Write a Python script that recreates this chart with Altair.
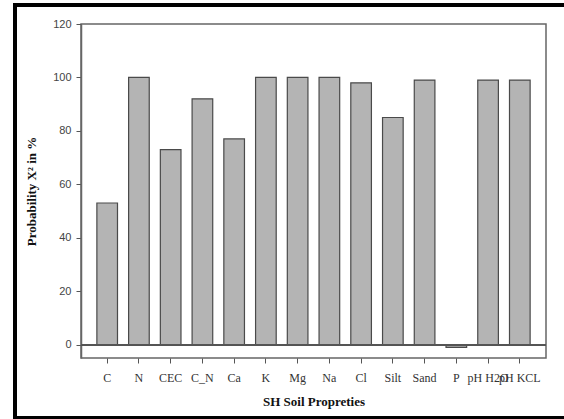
import altair as alt
import pandas as pd

categories = ["C", "N", "CEC", "C_N", "Ca", "K", "Mg", "Na", "Cl", "Silt", "Sand", "P", "pH H2O", "pH KCL"]
values = [53, 100, 73, 92, 77, 100, 100, 100, 98, 85, 99, -1, 99, 99]
y_ticks = [0, 20, 40, 60, 80, 100, 120]

df = pd.DataFrame({"prop": categories, "prob": values})

W, H = 465, 334

x_enc = alt.X("prop:N", sort=categories, title="SH Soil Propreties",
              scale=alt.Scale(paddingInner=0.35, paddingOuter=0.5),
              axis=alt.Axis(labelAngle=0, labelFont="Liberation Serif", labelFontSize=12,
                            labelColor="#333333", tickColor="#555555", tickSize=5,
                            labelPadding=9, domain=False, titleFont="Liberation Serif",
                            titleFontSize=13, titleFontWeight="bold", titleColor="#111111",
                            titlePadding=12, labelOverlap=False))
y_enc = alt.Y("prob:Q", title="Probability X² in %",
              scale=alt.Scale(domain=[-5, 120], nice=False, zero=False),
              axis=alt.Axis(values=y_ticks, grid=False, labelFont="Liberation Sans",
                            labelFontSize=11, labelColor="#444444", tickColor="#555555",
                            tickSize=5, labelPadding=5, domainColor="#666666", domainWidth=1.5,
                            titleFont="Liberation Serif", titleFontSize=13,
                            titleFontWeight="bold", titleColor="#111111", titlePadding=14))

bars = alt.Chart(df).mark_bar(fill="#b4b4b4", stroke="#4a4a4a", strokeWidth=1.2).encode(
    x=x_enc, y=y_enc, y2=alt.datum(0)
)

zero = alt.Chart(df).mark_rule(color="#555555", strokeWidth=1.5).encode(
    y=alt.datum(0), x=alt.value(0), x2=alt.value(W)
)

frame = alt.Chart(df).mark_rect(fill=None, stroke="#000000", strokeWidth=3.5, clip=False).encode(
    x=alt.value(-66), x2=alt.value(520), y=alt.value(-19), y2=alt.value(394)
)

chart = alt.layer(bars, zero, frame).properties(
    width=W, height=H,
    autosize=alt.AutoSizeParams(type="none"),
    padding={"left": 81, "top": 24, "right": 18, "bottom": 61},
    background="#ffffff",
).configure_view(stroke="#666666", strokeWidth=1.5)

chart.save("out.html", embed_options={"renderer": "svg", "actions": False})
